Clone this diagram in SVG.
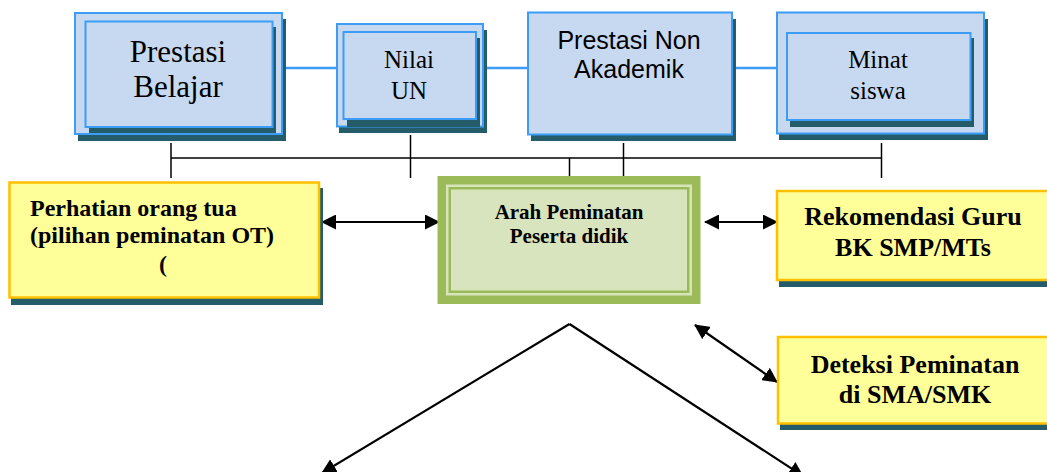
<svg xmlns="http://www.w3.org/2000/svg" width="1047" height="472" viewBox="0 0 1047 472">
  <defs>
    <style>
      .blue { fill: #C6D9F1; stroke: #3D9DF6; stroke-width: 2; }
      .shadow { fill: #245C6A; }
      .yellow { fill: #FFFF99; stroke: #FFC000; stroke-width: 2.5; }
      .link { stroke: #3D9DF6; stroke-width: 2.5; fill: none; }
      .bus { stroke: #000; stroke-width: 1.5; fill: none; }
      .arrow { stroke: #000; stroke-width: 2.2; fill: none; }
      .serif { font-family: "Liberation Serif", "Times New Roman", serif; fill: #000; text-anchor: middle; }
      .sans { font-family: "Liberation Sans", Arial, sans-serif; fill: #000; text-anchor: middle; }
      .bold { font-weight: bold; }
      .left { text-anchor: start; }
    </style>
    <marker id="head" viewBox="0 0 15 15" refX="14" refY="7.5" markerWidth="15" markerHeight="15" markerUnits="userSpaceOnUse" orient="auto-start-reverse">
      <path d="M0,0 L15,7.5 L0,15 Z" fill="#000"/>
    </marker>
  </defs>

  <!-- links between top boxes -->
  <g id="connectors">
    <line class="link" x1="282" y1="68" x2="337" y2="68"/>
    <line class="link" x1="483" y1="68" x2="528" y2="68"/>
    <line class="link" x1="732" y1="68" x2="777" y2="68"/>

    <!-- bus under the top row -->
    <line class="bus" x1="171" y1="158" x2="882" y2="158"/>
    <line class="bus" x1="171" y1="143" x2="171" y2="178"/>
    <line class="bus" x1="410.5" y1="135" x2="410.5" y2="178"/>
    <line class="bus" x1="569.5" y1="158" x2="569.5" y2="176"/>
    <line class="bus" x1="623.5" y1="143" x2="623.5" y2="176"/>
    <line class="bus" x1="881.5" y1="143" x2="881.5" y2="178"/>

    <!-- two-way arrows -->
    <line class="arrow" x1="322" y1="222" x2="439" y2="222" marker-start="url(#head)" marker-end="url(#head)"/>
    <line class="arrow" x1="705" y1="222" x2="777" y2="222" marker-start="url(#head)" marker-end="url(#head)"/>
    <line class="arrow" x1="695" y1="325" x2="777" y2="382" marker-start="url(#head)" marker-end="url(#head)"/>

    <!-- split below -->
    <line class="arrow" x1="569.5" y1="324" x2="322" y2="473" marker-end="url(#head)"/>
    <line class="arrow" x1="569.5" y1="324" x2="803" y2="476" marker-end="url(#head)"/>
  </g>

  <g id="prestasi-belajar">
    <rect class="shadow" x="78" y="19" width="208" height="122"/>
    <rect class="blue" x="75" y="13" width="207" height="121"/>
    <rect class="shadow" x="89" y="27" width="187" height="106"/>
    <rect class="blue" x="85.5" y="21.5" width="187" height="105.5"/>
    <text class="serif" font-size="31" x="178" y="62">Prestasi</text>
    <text class="serif" font-size="31" x="178" y="97">Belajar</text>
  </g>

  <g id="nilai-un">
    <rect class="shadow" x="339" y="30" width="148" height="103"/>
    <rect class="blue" x="337" y="24" width="146" height="102.5"/>
    <rect class="shadow" x="347" y="38" width="133" height="89"/>
    <rect class="blue" x="343.5" y="32" width="132.5" height="87"/>
    <text class="serif" font-size="25" x="409" y="68">Nilai</text>
    <text class="serif" font-size="25" x="409" y="99">UN</text>
  </g>

  <g id="prestasi-non-akademik">
    <rect class="shadow" x="531" y="19" width="205" height="122"/>
    <rect class="blue" x="528" y="12.5" width="204" height="122"/>
    <text class="sans" font-size="25" x="629" y="49">Prestasi Non</text>
    <text class="sans" font-size="25" x="629" y="78">Akademik</text>
  </g>

  <g id="minat-siswa">
    <rect class="shadow" x="779" y="19" width="209" height="121"/>
    <rect class="blue" x="777" y="12.5" width="207" height="121"/>
    <rect class="shadow" x="790" y="38" width="184" height="89"/>
    <rect class="blue" x="787" y="33" width="183.5" height="87"/>
    <text class="serif" font-size="25" x="878" y="68">Minat</text>
    <text class="serif" font-size="25" x="878" y="99">siswa</text>
  </g>

  <g id="perhatian-orang-tua">
    <rect class="shadow" x="11" y="188" width="312" height="117"/>
    <rect class="yellow" x="9.5" y="182.5" width="309.5" height="115"/>
    <text class="serif bold left" font-size="24" x="30" y="216">Perhatian orang tua</text>
    <text class="serif bold left" font-size="24" x="30" y="243">(pilihan peminatan OT)</text>
    <text class="serif bold" font-size="24" x="163" y="272">(</text>
  </g>

  <g id="arah-peminatan">
    <rect x="437.5" y="176" width="263" height="128" fill="#9BBB59"/>
    <rect x="446" y="184.5" width="246" height="111" fill="#D7E4BC"/>
    <rect x="448.5" y="187" width="241" height="106" fill="#9BBB59"/>
    <rect x="451" y="189.5" width="236" height="101" fill="#D7E4BD"/>
    <text class="serif bold" font-size="21" x="569" y="219">Arah Peminatan</text>
    <text class="serif bold" font-size="21" x="569" y="243">Peserta didik</text>
  </g>

  <g id="rekomendasi-guru">
    <rect class="shadow" x="779" y="197" width="275" height="90"/>
    <rect class="yellow" x="777" y="191" width="275" height="89"/>
    <text class="serif bold" font-size="26" x="913" y="225">Rekomendasi Guru</text>
    <text class="serif bold" font-size="26" x="913" y="256">BK SMP/MTs</text>
  </g>

  <g id="deteksi-peminatan">
    <rect class="shadow" x="780" y="343" width="275" height="87"/>
    <rect class="yellow" x="778" y="337" width="275" height="86.5"/>
    <text class="serif bold" font-size="26" x="915" y="373">Deteksi Peminatan</text>
    <text class="serif bold" font-size="26" x="915" y="403">di SMA/SMK</text>
  </g>
</svg>
